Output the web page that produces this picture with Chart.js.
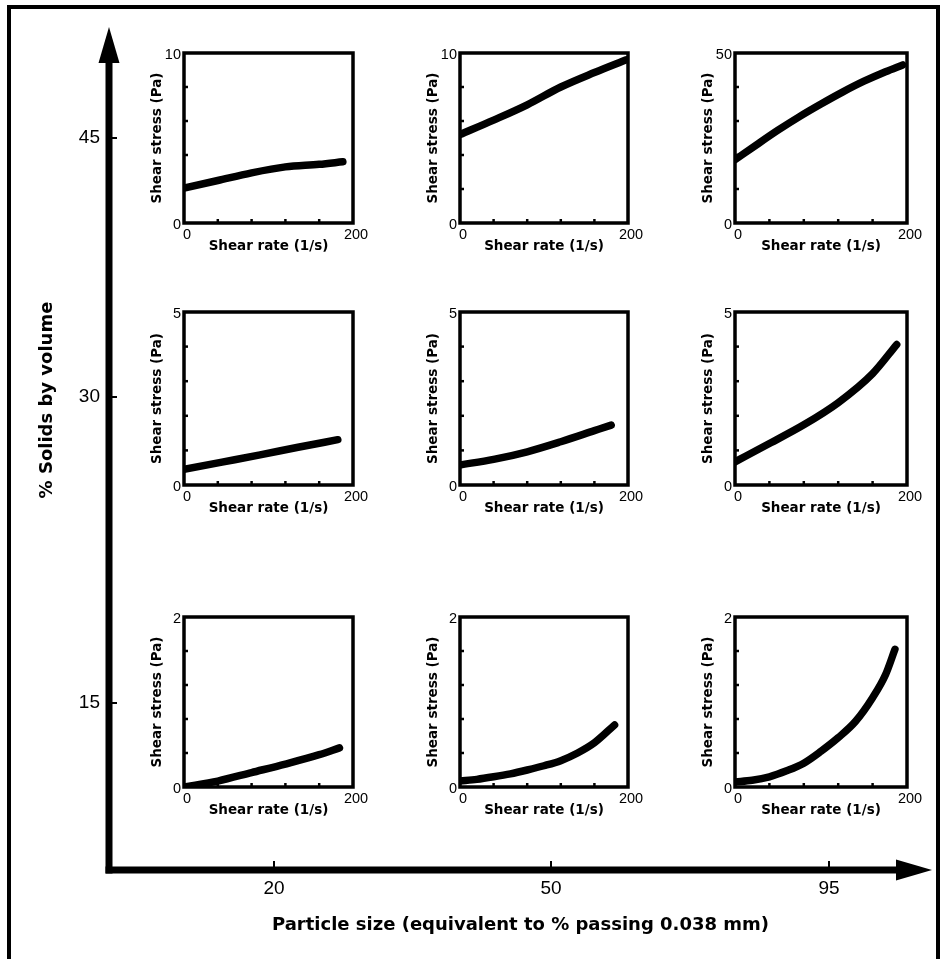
<!DOCTYPE html>
<html><head><meta charset="utf-8">
<script src="https://cdn.jsdelivr.net/npm/chart.js@4.4.1/dist/chart.umd.min.js"></script>
<style>
html,body{margin:0;padding:0;background:#fff;overflow:hidden;width:944px;height:959px;}
#frame{position:absolute;left:7px;top:5px;width:933px;height:1000px;box-sizing:border-box;border:4px solid #000;}
canvas{position:absolute;}
</style></head><body>
<div id="frame"></div>
<canvas id="outer" width="944" height="959" style="left:0;top:0"></canvas>
<script>
// ---------------- DATA ----------------
const particleSizes = ['20', '50', '95'];      // columns: % passing 0.038 mm
const solidsLevels  = ['45', '30', '15'];      // rows (top to bottom): % solids by volume
const stressMax     = [[10, 10, 50], [5, 5, 5], [2, 2, 2]]; // y-range top (Pa) per panel
const shearRateLabels = [0, 200];              // x-range (1/s)

// 45 % solids
const rate_45_20   = [0, 40, 80, 120, 160, 188];
const stress_45_20 = [2.05, 2.5, 2.95, 3.3, 3.45, 3.6];
const rate_45_50   = [0, 40, 80, 120, 160, 198];
const stress_45_50 = [5.2, 6.05, 6.95, 8.0, 8.85, 9.6];
const rate_45_95   = [0, 25, 50, 75, 100, 125, 150, 175, 195];
const stress_45_95 = [18.6, 23.0, 27.3, 31.3, 35.0, 38.5, 41.7, 44.5, 46.5];
// 30 % solids
const rate_30_20   = [0, 45, 90, 135, 182];
const stress_30_20 = [0.45, 0.66, 0.87, 1.09, 1.31];
const rate_30_50   = [0, 40, 80, 120, 160, 180];
const stress_30_50 = [0.58, 0.74, 0.96, 1.25, 1.57, 1.73];
const rate_30_95   = [0, 40, 80, 120, 160, 188];
const stress_30_95 = [0.67, 1.2, 1.74, 2.38, 3.22, 4.06];
// 15 % solids
const rate_15_20   = [0, 40, 80, 120, 160, 184];
const stress_15_20 = [0.0, 0.07, 0.17, 0.27, 0.38, 0.46];
const rate_15_50   = [0, 20, 40, 60, 80, 100, 120, 140, 160, 184];
const stress_15_50 = [0.07, 0.09, 0.12, 0.155, 0.2, 0.25, 0.31, 0.4, 0.52, 0.73];
const rate_15_95   = [0, 20, 40, 60, 80, 100, 120, 140, 160, 175, 186];
const stress_15_95 = [0.06, 0.08, 0.12, 0.19, 0.28, 0.42, 0.58, 0.77, 1.05, 1.32, 1.62];

const series = [
  [[rate_45_20, stress_45_20], [rate_45_50, stress_45_50], [rate_45_95, stress_45_95]],
  [[rate_30_20, stress_30_20], [rate_30_50, stress_30_50], [rate_30_95, stress_30_95]],
  [[rate_15_20, stress_15_20], [rate_15_50, stress_15_50], [rate_15_95, stress_15_95]]
];

// ---------------- LAYOUT (page pixels) ----------------
const colLeft = [184, 460, 735], colWidth = [169, 168, 172];
const rowTop  = [53, 312, 617],  rowHeight = [170, 173, 170];
const bigXTickPos = [274, 551, 829];
const bigYTickPos = [138, 397, 703];
const PAD = {l: 46, t: 14, r: 20, b: 37};

Chart.defaults.color = '#000';
const NUM_FONT = "'Liberation Sans', Arial, sans-serif";
const BOLD_FONT = "'DejaVu Sans', sans-serif";

// ---------------- OUTER AXES ----------------
const arrows = {
  id: 'arrows',
  afterDraw(chart) {
    const {ctx, chartArea: a, scales} = chart;
    ctx.save();
    ctx.fillStyle = '#000'; ctx.strokeStyle = '#000';
    ctx.lineWidth = 7; ctx.lineCap = 'butt';
    ctx.beginPath(); ctx.moveTo(a.left, a.bottom + 3.5); ctx.lineTo(a.left, a.top + 30); ctx.stroke();
    ctx.beginPath(); ctx.moveTo(a.left, a.top); ctx.lineTo(a.left - 10.5, a.top + 36); ctx.lineTo(a.left + 10.5, a.top + 36); ctx.closePath(); ctx.fill();
    ctx.beginPath(); ctx.moveTo(a.left - 3.5, a.bottom); ctx.lineTo(a.right - 30, a.bottom); ctx.stroke();
    ctx.beginPath(); ctx.moveTo(a.right, a.bottom); ctx.lineTo(a.right - 36, a.bottom - 10.5); ctx.lineTo(a.right - 36, a.bottom + 10.5); ctx.closePath(); ctx.fill();
    ctx.lineWidth = 2;
    scales.y.ticks.forEach(t => { const p = scales.y.getPixelForValue(t.value); ctx.beginPath(); ctx.moveTo(a.left + 3, p); ctx.lineTo(a.left + 8, p); ctx.stroke(); });
    scales.x.ticks.forEach(t => { const p = scales.x.getPixelForValue(t.value); ctx.beginPath(); ctx.moveTo(p, a.bottom - 3); ctx.lineTo(p, a.bottom - 9); ctx.stroke(); });
    ctx.translate(47, 400); ctx.rotate(-Math.PI / 2);
    ctx.font = "bold 18px " + BOLD_FONT; ctx.textAlign = 'center'; ctx.textBaseline = 'middle';
    ctx.fillText('% Solids by volume', 0, 0);
    ctx.restore();
  }
};

new Chart(document.getElementById('outer'), {
  type: 'scatter',
  data: {datasets: []},
  options: {
    responsive: false, animation: false, devicePixelRatio: 1,
    layout: {padding: {left: 0, top: 27, right: 12, bottom: 0}},
    plugins: {legend: {display: false}, tooltip: {enabled: false}},
    scales: {
      x: {
        type: 'linear', min: 109, max: 932,
        afterFit: s => { s.height = 89; s.paddingLeft = 0; s.paddingRight = 0; },
        afterBuildTicks: s => { s.ticks = bigXTickPos.map(v => ({value: v})); },
        ticks: {autoSkip: false, maxRotation: 0, padding: 7, font: {family: NUM_FONT, size: 19},
                callback: (v, i) => particleSizes[i]},
        grid: {display: false, drawTicks: false}, border: {display: false},
        title: {display: true, text: 'Particle size (equivalent to % passing 0.038 mm)',
                font: {family: BOLD_FONT, weight: 'bold', size: 18}, padding: {top: 0, bottom: 23}}
      },
      y: {
        type: 'linear', reverse: true, min: 27, max: 870,
        afterFit: s => { s.width = 109; s.paddingTop = 0; s.paddingBottom = 0; },
        afterBuildTicks: s => { s.ticks = bigYTickPos.map(v => ({value: v})); },
        ticks: {autoSkip: false, padding: 9, font: {family: NUM_FONT, size: 19},
                callback: (v, i) => solidsLevels[i]},
        grid: {display: false, drawTicks: false}, border: {display: false}
      }
    }
  },
  plugins: [arrows]
});

// ---------------- PANELS ----------------
const boxAndTicks = {
  id: 'boxAndTicks',
  afterDraw(chart) {
    const {ctx, chartArea: a, scales} = chart;
    ctx.save();
    ctx.strokeStyle = '#000';
    ctx.lineWidth = 2.5;
    scales.y.ticks.forEach((t, i) => {
      if (i === 0 || i === scales.y.ticks.length - 1) return;
      const p = scales.y.getPixelForValue(t.value);
      ctx.beginPath(); ctx.moveTo(a.left, p); ctx.lineTo(a.left + 4, p); ctx.stroke();
    });
    scales.x.ticks.forEach((t, i) => {
      if (i === 0 || i === scales.x.ticks.length - 1) return;
      const p = scales.x.getPixelForValue(t.value);
      ctx.beginPath(); ctx.moveTo(p, a.bottom); ctx.lineTo(p, a.bottom - 4); ctx.stroke();
    });
    ctx.lineWidth = 3.5;
    ctx.strokeRect(a.left, a.top, a.right - a.left, a.bottom - a.top);
    ctx.restore();
  }
};

for (let r = 0; r < 3; r++) {
  for (let c = 0; c < 3; c++) {
    const [rate, stress] = series[r][c];
    const ymax = stressMax[r][c];
    const cv = document.createElement('canvas');
    cv.width = colWidth[c] + PAD.l + PAD.r;
    cv.height = rowHeight[r] + PAD.t + PAD.b;
    cv.style.left = (colLeft[c] - PAD.l) + 'px';
    cv.style.top = (rowTop[r] - PAD.t) + 'px';
    document.body.appendChild(cv);
    new Chart(cv, {
      type: 'line',
      data: {datasets: [{
        data: rate.map((x, i) => ({x: x, y: stress[i]})),
        borderColor: '#000', borderWidth: 7.5, pointRadius: 0,
        cubicInterpolationMode: 'monotone', borderCapStyle: 'round', borderJoinStyle: 'round', fill: false
      }]},
      options: {
        responsive: false, animation: false, devicePixelRatio: 1,
        layout: {padding: {left: 0, top: PAD.t, right: PAD.r, bottom: 0}},
        plugins: {legend: {display: false}, tooltip: {enabled: false}},
        scales: {
          x: {
            type: 'linear', min: shearRateLabels[0], max: shearRateLabels[1],
            afterFit: s => { s.height = PAD.b; s.paddingLeft = 0; s.paddingRight = 0; },
            ticks: {stepSize: (shearRateLabels[1] - shearRateLabels[0]) / 5, autoSkip: false, maxRotation: 0,
                    padding: 3, labelOffset: 3, font: {family: NUM_FONT, size: 14.5},
                    callback: v => shearRateLabels.includes(v) ? String(v) : ''},
            grid: {display: false, drawTicks: false}, border: {display: false},
            title: {display: true, text: 'Shear rate (1/s)', font: {family: BOLD_FONT, weight: 'bold', size: 13.5},
                    padding: {top: 0, bottom: 5}}
          },
          y: {
            type: 'linear', min: 0, max: ymax,
            afterFit: s => { s.width = PAD.l; s.paddingTop = 0; s.paddingBottom = 0; },
            ticks: {stepSize: ymax / 5, autoSkip: false, padding: 3, labelOffset: 2,
                    font: {family: NUM_FONT, size: 14.5},
                    callback: v => (v === 0 || Math.abs(v - ymax) < 1e-9) ? String(v) : ''},
            grid: {display: false, drawTicks: false}, border: {display: false},
            title: {display: true, text: 'Shear stress (Pa)', font: {family: BOLD_FONT, weight: 'bold', size: 13.5},
                    padding: {top: 11, bottom: 0}}
          }
        }
      },
      plugins: [boxAndTicks]
    });
  }
}
</script>
</body></html>
